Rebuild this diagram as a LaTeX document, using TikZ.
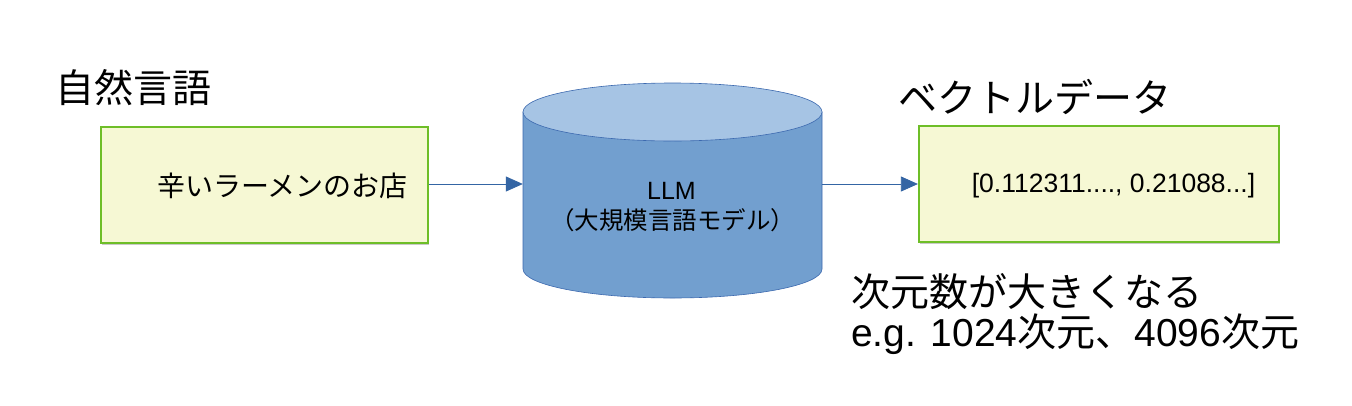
\documentclass[tikz,border=0pt]{standalone}
\usepackage{fontspec}
\setmainfont{Liberation Sans}
\newfontfamily\cjk{Noto Sans CJK JP}
\usetikzlibrary{arrows.meta,shadows}
\definecolor{boxfill}{RGB}{246,248,212}
\definecolor{boxline}{RGB}{110,190,40}
\definecolor{cylbody}{RGB}{114,159,207}
\definecolor{cyltop}{RGB}{166,196,228}
\definecolor{cylline}{RGB}{60,105,175}
\definecolor{arrowcol}{RGB}{52,101,164}
\begin{document}
\begin{tikzpicture}[x=1pt,y=-1pt,
  databox/.style={draw=boxline, line width=2.2pt, fill=boxfill, inner sep=0pt,
    drop shadow={shadow xshift=0.5pt, shadow yshift=-2pt, fill=black!35, opacity=0.6}},
  flow/.style={draw=arrowcol, line width=0.8pt, -{Triangle[length=17pt,width=15pt]}},
  label/.style={inner sep=0pt, anchor=west, text=black}]
\useasboundingbox (0,0) rectangle (1352,405);
\fill[white] (0,0) rectangle (1352,405);

% left box
\node[databox, minimum width=327pt, minimum height=116pt] (src) at (264.5,185) {};
\node[inner sep=0pt] (srctext) at (282.5,186) {\fontsize{28pt}{32pt}\selectfont\cjk 辛いラーメンのお店};
\node[label] (srctitle) at (55,88) {\fontsize{39pt}{44pt}\selectfont\cjk 自然言語};

% cylinder
\fill[cylbody, draw=cylline, line width=0.6pt] (523,112) -- (523,269)
  arc[start angle=180, end angle=360, x radius=149.5pt, y radius=29pt] -- (822,112) -- cycle;
\fill[cyltop, draw=cylline, line width=0.6pt] (672.5,112) ellipse [x radius=149.5pt, y radius=29pt];
\node[inner sep=0pt, minimum width=299pt, minimum height=216pt] (llm) at (672.5,190.5) {};
\node[inner sep=0pt] (llmtext) at (671.5,191) {\fontsize{25pt}{30pt}\selectfont LLM};
\node[inner sep=0pt] (llmsub) at (672.5,220) {\fontsize{24.5pt}{30pt}\selectfont\cjk （大規模言語モデル）};

% right box
\node[databox, minimum width=360pt, minimum height=116pt] (vec) at (1099,184) {};
\node[inner sep=0pt] (vectext) at (1113.5,186) {\fontsize{26.5pt}{30pt}\selectfont [0.112311...., 0.21088...]};
\node[label] (vectitle) at (898,97) {\fontsize{39pt}{44pt}\selectfont\cjk ベクトルデータ};

% arrows
\draw[flow] (src.east |- 0,184) -- (llm.west |- 0,184);
\draw[flow] (llm.east |- 0,184) -- (vec.west |- 0,184);

% notes
\node[label] (note1) at (851,292) {\fontsize{39pt}{44pt}\selectfont\cjk 次元数が大きくなる};
\node[label] (note2) at (851,334) {\fontsize{39pt}{44pt}\selectfont e.g. 1024{\cjk 次元、}4096{\cjk 次元}};
\end{tikzpicture}
\end{document}
